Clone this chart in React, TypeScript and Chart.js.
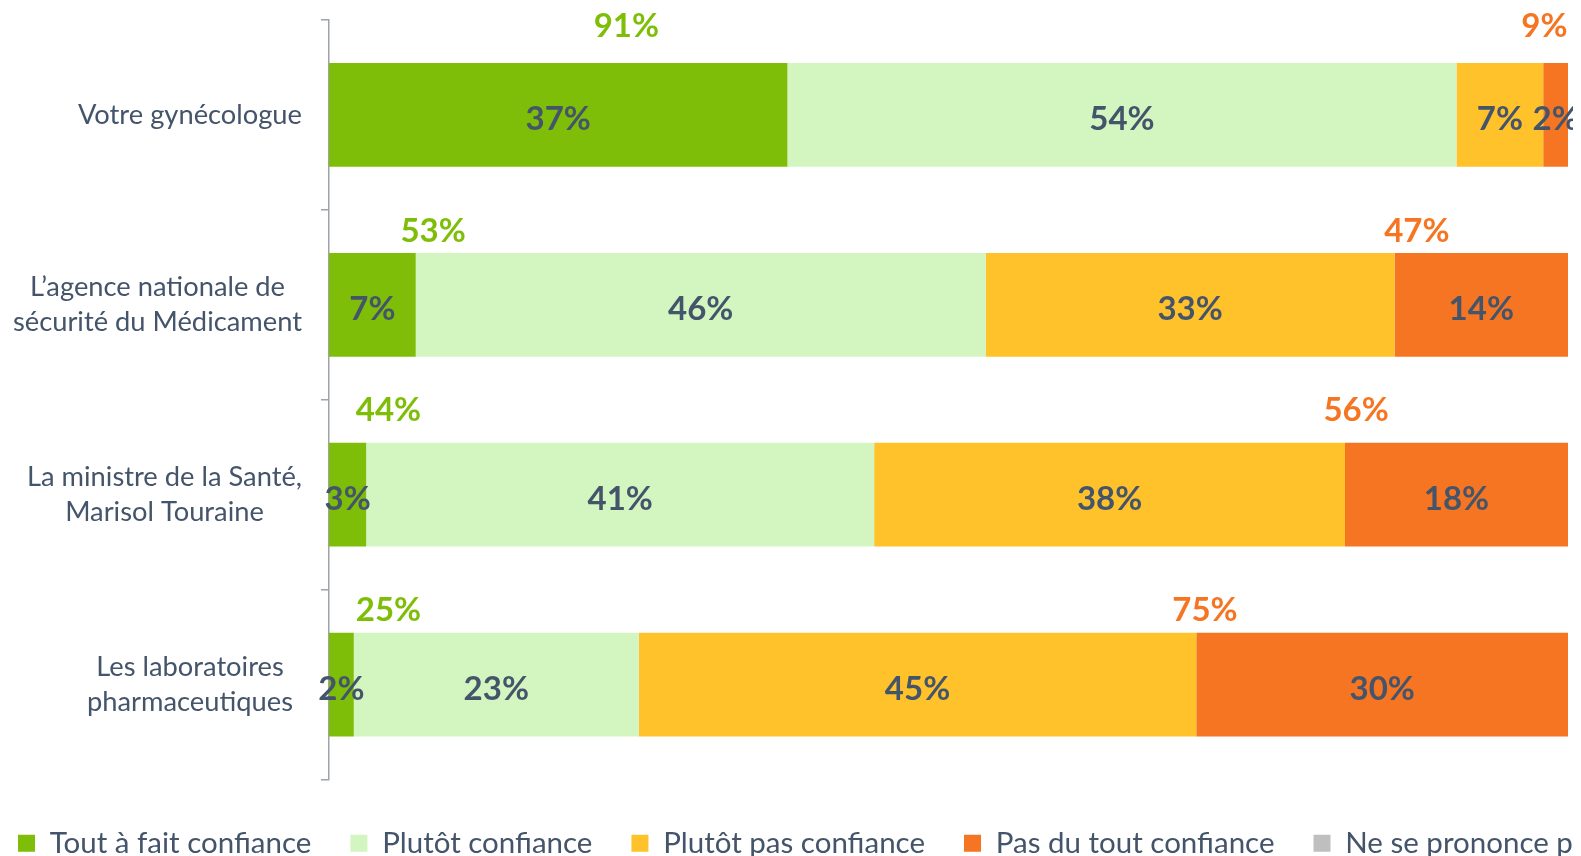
import React, { useEffect, useRef } from "react";
import { Chart, registerables } from "chart.js";

Chart.register(...registerables);

// ---- data ----
const categories: string[][] = [
  ["Votre gynécologue"],
  ["L’agence nationale de", "sécurité du Médicament"],
  ["La ministre de la Santé,", "Marisol Touraine"],
  ["Les laboratoires", "pharmaceutiques"],
];
const seriesNames = [
  "Tout à fait confiance",
  "Plutôt confiance",
  "Plutôt pas confiance",
  "Pas du tout confiance",
  "Ne se prononce pas",
];
const toutAFait = [37, 7, 3, 2];
const plutot = [54, 46, 41, 23];
const plutotPas = [7, 33, 38, 45];
const pasDuTout = [2, 14, 18, 30];
const nsp = [0, 0, 0, 0];

// ---- annotation placement (value-axis % / category units) ----
const confianceLabelAt = [24.0, 8.4, 4.8, 4.8];
const mefianceLabelAt = [98.1, 87.8, 82.9, 70.7];
const totalLabelRowOffset = [-0.409, -0.33, -0.389, -0.334];

const colors = ["#7FBE08", "#D3F5C0", "#FFC22B", "#F57523", "#BFBFBF"];
const TEXT = "#44546A";
const FONT = "Lato";

const segmentLabels = {
  id: "segmentLabels",
  afterDatasetsDraw(chart: any) {
    const ctx = chart.ctx;
    ctx.save();
    ctx.font = `bold 33px ${FONT}`;
    ctx.fillStyle = TEXT;
    ctx.textAlign = "center";
    ctx.textBaseline = "alphabetic";
    chart.data.datasets.forEach((ds: any, di: number) => {
      const meta = chart.getDatasetMeta(di);
      meta.data.forEach((bar: any, i: number) => {
        const v = ds.data[i];
        if (!v) return;
        const p = bar.getProps(["x", "y", "base"], true);
        ctx.fillText(`${v}%`, (p.x + p.base) / 2, p.y + 15);
      });
    });
    // totals
    const xs = chart.scales.x;
    const ys = chart.scales.y;
    for (let i = 0; i < categories.length; i++) {
      const conf = toutAFait[i] + plutot[i];
      const mef = plutotPas[i] + pasDuTout[i];
      const y = ys.getPixelForValue(i + totalLabelRowOffset[i]);
      ctx.fillStyle = colors[0];
      ctx.fillText(`${conf}%`, xs.getPixelForValue(confianceLabelAt[i]), y);
      ctx.fillStyle = colors[3];
      ctx.fillText(`${mef}%`, xs.getPixelForValue(mefianceLabelAt[i]), y);
    }
    ctx.restore();
  },
};

const categoryLabels = {
  id: "categoryLabels",
  afterDraw(chart: any) {
    const ctx = chart.ctx;
    const ys = chart.scales.y;
    const left = chart.chartArea.left;
    ctx.save();
    ctx.font = `27.3px ${FONT}`;
    ctx.fillStyle = TEXT;
    ctx.textAlign = "center";
    ctx.textBaseline = "alphabetic";
    (chart.data.labels as string[][]).forEach((lines, i) => {
      const arr = Array.isArray(lines) ? lines : [lines];
      const w = Math.max(...arr.map((l) => ctx.measureText(l).width));
      const center = Math.min(left - 139, left - 27 - w / 2);
      const yc = ys.getPixelForValue(i);
      const n = arr.length;
      arr.forEach((l, j) => {
        ctx.fillText(l, center, yc + 9 + (j - (n - 1) / 2) * 35);
      });
    });
    ctx.restore();
  },
};

export default function App() {
  const ref = useRef<HTMLCanvasElement | null>(null);
  useEffect(() => {
    if (!ref.current) return;
    const chart = new Chart(ref.current, {
      type: "bar",
      data: {
        labels: categories as any,
        datasets: [toutAFait, plutot, plutotPas, pasDuTout, nsp].map((d, k) => ({
          label: seriesNames[k],
          data: d,
          backgroundColor: colors[k],
          borderWidth: 0,
          barPercentage: 0.546,
          categoryPercentage: 1,
        })),
      },
      options: {
        indexAxis: "y",
        responsive: false,
        animation: false,
        events: [],
        layout: { padding: { top: 12, left: 0, right: 0, bottom: 0 } },
        scales: {
          x: {
            type: "linear",
            stacked: true,
            min: 0,
            max: 100,
            position: "bottom",
            grid: { display: false },
            border: { display: false },
            ticks: { display: false },
            afterFit: (s: any) => {
              s.height = 10;
            },
          },
          y: {
            type: "category",
            stacked: true,
            position: "left",
            offset: true,
            grid: {
              display: true,
              offset: true,
              drawOnChartArea: false,
              drawTicks: true,
              tickLength: 8,
              color: "#9DA3AA",
              lineWidth: 1.5,
            },
            border: { display: true, color: "#9DA3AA", width: 1.5 },
            ticks: { display: false },
            afterFit: (s: any) => {
              s.width = 350;
            },
          },
          y2: {
            type: "linear",
            position: "right",
            display: true,
            grid: { display: false },
            border: { display: false },
            ticks: { display: false },
            afterFit: (s: any) => {
              s.width = 411;
            },
          },
        } as any,
        plugins: {
          legend: {
            display: true,
            position: "bottom",
            align: "start",
            labels: {
              boxWidth: 17,
              boxHeight: 17,
              padding: 39,
              color: TEXT,
              font: { family: FONT, size: 29.5 },
            },
          },
          tooltip: { enabled: false },
          title: { display: false },
        },
      },
      plugins: [segmentLabels, categoryLabels],
    });
    return () => chart.destroy();
  }, []);

  return (
    <div style={{ position: "relative", width: 1573, height: 848, overflow: "hidden" }}>
      <div style={{ position: "absolute", left: -29, top: 0, width: 2000, height: 860 }}>
        <canvas ref={ref} width={2000} height={860} style={{ width: 2000, height: 860, display: "block" }} />
      </div>
    </div>
  );
}
